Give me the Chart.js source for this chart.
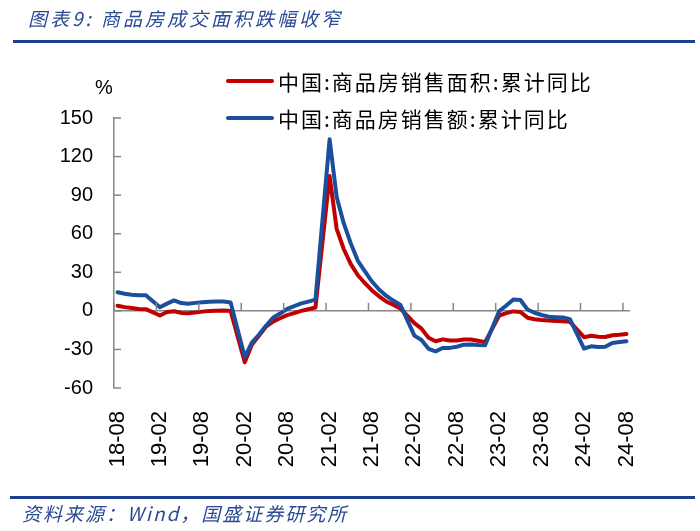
<!DOCTYPE html>
<html>
<head>
<meta charset="utf-8">
<script src="https://cdn.jsdelivr.net/npm/chart.js@4.4.1/dist/chart.umd.min.js"></script>
<style>
  html, body { margin: 0; padding: 0; background: #fff; }
  #wrap { position: relative; width: 700px; height: 531px; }
  #c { position: absolute; left: 0; top: 0; }
  .txt { position: absolute; white-space: nowrap; font-style: italic; color: #2A4A94; }
  #title { left: 28px; top: 5px; font-size: 19px; line-height: 26px; letter-spacing: 3px; font-family: "Noto Sans CJK SC", sans-serif; }
  #foot { left: 22px; top: 500px; font-size: 19px; line-height: 26px; letter-spacing: 2px; font-family: "Noto Sans CJK SC", sans-serif; }
  .rule { position: absolute; height: 3px; background: #1F3F8F; }
</style>
</head>
<body>
<div id="wrap">
  <canvas id="c" width="700" height="531"></canvas>
  <div class="txt" id="title">图表9: 商品房成交面积跌幅收窄</div>
  <div class="rule" style="left:13px; top:40px; width:682px;"></div>
  <div class="rule" style="left:10px; top:496px; width:685px;"></div>
  <div class="txt" id="foot">资料来源：Wind，国盛证券研究所</div>
</div>
<script>
// Categories (monthly, 2018-08 .. 2024-08)
const categories = [
  "18-08","18-09","18-10","18-11","18-12",
  "19-01","19-02","19-03","19-04","19-05","19-06","19-07","19-08","19-09","19-10","19-11","19-12",
  "20-01","20-02","20-03","20-04","20-05","20-06","20-07","20-08","20-09","20-10","20-11","20-12",
  "21-01","21-02","21-03","21-04","21-05","21-06","21-07","21-08","21-09","21-10","21-11","21-12",
  "22-01","22-02","22-03","22-04","22-05","22-06","22-07","22-08","22-09","22-10","22-11","22-12",
  "23-01","23-02","23-03","23-04","23-05","23-06","23-07","23-08","23-09","23-10","23-11","23-12",
  "24-01","24-02","24-03","24-04","24-05","24-06","24-07","24-08"
];
// 中国:商品房销售面积:累计同比 (%)
const salesArea = [
  4.0, 2.9, 2.2, 1.4, 1.3,
  null, -3.6, -0.9, -0.3, -1.6, -1.8, -1.3, -0.6, -0.1, 0.1, 0.2, -0.1,
  null, -39.9, -26.3, -19.3, -12.3, -8.4, -5.8, -3.3, -1.8, 0.0, 1.3, 2.6,
  null, 104.9, 63.8, 48.1, 36.3, 27.7, 21.5, 15.9, 11.3, 7.3, 4.8, 1.9,
  null, -9.6, -13.8, -20.9, -23.6, -22.2, -23.1, -23.0, -22.2, -22.3, -23.3, -24.3,
  null, -3.6, -1.8, -0.4, -0.9, -5.3, -6.5, -7.1, -7.5, -7.8, -8.0, -8.5,
  null, -20.5, -19.4, -20.2, -20.3, -19.0, -18.6, -18.0
];
// 中国:商品房销售额:累计同比 (%)
const salesAmount = [
  14.5, 13.3, 12.5, 12.1, 12.2,
  null, 2.8, 5.6, 8.1, 6.1, 5.6, 6.2, 6.7, 7.1, 7.3, 7.3, 6.5,
  null, -35.9, -24.7, -18.6, -11.6, -5.4, -2.1, 1.6, 3.7, 5.8, 7.2, 8.7,
  null, 133.4, 88.5, 68.2, 52.4, 38.9, 30.7, 22.8, 16.6, 11.8, 8.0, 4.8,
  null, -19.3, -22.7, -29.5, -31.5, -28.9, -28.8, -27.9, -26.3, -26.1, -26.6, -26.7,
  null, -0.1, 4.1, 8.8, 8.4, 1.1, -1.5, -3.2, -4.6, -4.9, -5.2, -6.5,
  null, -29.3, -27.6, -28.1, -27.9, -25.0, -24.3, -23.6
];
const seriesNames = ["中国:商品房销售面积:累计同比", "中国:商品房销售额:累计同比"];
const seriesColors = ["#C00000", "#1B4F9C"];
const yMin = -60, yMax = 150, yStep = 30;
const labelEvery = 6;

const AXIS_GRAY = "#868686";

const deco = {
  id: "deco",
  afterDraw(chart) {
    const { ctx, scales: { x, y } } = chart;
    ctx.save();
    ctx.strokeStyle = AXIS_GRAY;
    ctx.lineWidth = 1.5;
    // inward y ticks
    y.ticks.forEach(t => {
      const py = y.getPixelForValue(t.value);
      ctx.beginPath();
      ctx.moveTo(x.left, py);
      ctx.lineTo(x.left + 7, py);
      ctx.stroke();
    });
    // x ticks on zero line, between categories
    const zy = y.getPixelForValue(0);
    const half = (x.getPixelForValue(1) - x.getPixelForValue(0)) / 2;
    for (let i = 0; i < categories.length; i += labelEvery) {
      const px = x.getPixelForValue(i) - half;
      ctx.beginPath();
      ctx.moveTo(px, zy);
      ctx.lineTo(px, zy - 8);
      ctx.stroke();
    }
    // unit label
    ctx.fillStyle = "#000";
    ctx.font = '20px "Liberation Sans", Arial, sans-serif';
    ctx.textAlign = "center";
    ctx.textBaseline = "middle";
    ctx.fillText("%", y.right - 10, y.top - 30);
    // legend
    ctx.font = '21px "Noto Sans CJK SC", sans-serif';
    ctx.textAlign = "left";
    if ("letterSpacing" in ctx) ctx.letterSpacing = "2px";
    chart.data.datasets.forEach((ds, k) => {
      const ly = 81 + 37 * k;
      ctx.strokeStyle = ds.borderColor;
      ctx.lineWidth = 4;
      ctx.lineCap = "round";
      ctx.beginPath();
      ctx.moveTo(228, ly);
      ctx.lineTo(272, ly);
      ctx.stroke();
      ctx.fillStyle = "#000";
      ctx.fillText(ds.label, 278, ly + 1);
    });
    ctx.restore();
  }
};

new Chart(document.getElementById("c"), {
  type: "line",
  data: {
    labels: categories,
    datasets: [
      { label: seriesNames[0], data: salesArea, borderColor: seriesColors[0], backgroundColor: seriesColors[0], order: 1 },
      { label: seriesNames[1], data: salesAmount, borderColor: seriesColors[1], backgroundColor: seriesColors[1], order: 0 }
    ]
  },
  options: {
    responsive: false,
    animation: false,
    devicePixelRatio: 1,
    spanGaps: true,
    elements: {
      line: { borderWidth: 4, tension: 0, borderJoinStyle: "round", borderCapStyle: "round" },
      point: { radius: 0, hoverRadius: 0 }
    },
    layout: { padding: { top: 118, right: 70, left: 0, bottom: 0 } },
    plugins: { legend: { display: false }, tooltip: { enabled: false }, title: { display: false } },
    scales: {
      x: {
        type: "category",
        offset: true,
        grid: { display: false },
        border: { display: false },
        afterFit(s) { s.height = 143; },
        ticks: {
          autoSkip: false,
          minRotation: 90,
          maxRotation: 90,
          padding: 15,
          color: "#000",
          font: { family: '"Liberation Sans", Arial, sans-serif', size: 22 },
          callback(v, i) { return i % labelEvery === 0 ? categories[i] : ""; }
        }
      },
      y: {
        min: yMin,
        max: yMax,
        afterFit(s) { s.width = 114; },
        ticks: {
          stepSize: yStep,
          padding: 21,
          color: "#000",
          font: { family: '"Liberation Sans", Arial, sans-serif', size: 20 }
        },
        grid: {
          drawTicks: false,
          lineWidth: 1.5,
          color: c => (c.tick && c.tick.value === 0) ? AXIS_GRAY : "rgba(0,0,0,0)"
        },
        border: { display: true, color: AXIS_GRAY, width: 1.5 }
      }
    }
  },
  plugins: [deco]
});
</script>
</body>
</html>
